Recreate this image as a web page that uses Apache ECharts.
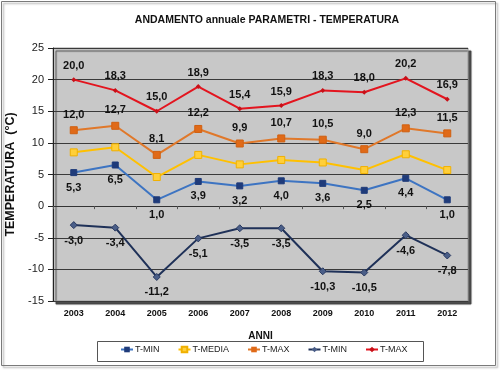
<!DOCTYPE html>
<html><head><meta charset="utf-8">
<script src="https://cdn.jsdelivr.net/npm/echarts@6/dist/echarts.min.js"></script>
<style>html,body{margin:0;padding:0;background:#fff}#c{width:500px;height:370px}</style>
</head><body><div id="c"></div>
<script>
const categories = ['2003','2004','2005','2006','2007','2008','2009','2010','2011','2012'];
const tMinBlue = [5.3, 6.5, 1.0, 3.9, 3.2, 4.0, 3.6, 2.5, 4.4, 1.0];
const tMedia = [8.5, 9.3, 4.6, 8.1, 6.6, 7.3, 6.9, 5.7, 8.2, 5.7];
const tMaxOrange = [12.0, 12.7, 8.1, 12.2, 9.9, 10.7, 10.5, 9.0, 12.3, 11.5];
const tMinNavy = [-3.0, -3.4, -11.2, -5.1, -3.5, -3.5, -10.3, -10.5, -4.6, -7.8];
const tMaxRed = [20.0, 18.3, 15.0, 18.9, 15.4, 15.9, 18.3, 18.0, 20.2, 16.9];
const yTicks = [-15, -10, -5, 0, 5, 10, 15, 20, 25];

const FONT = '"Liberation Sans", Arial, sans-serif';
const fmt = p => p.value.toFixed(1).replace('.', ',');
const lbl = (pos, extra) => Object.assign({show: true, position: pos, formatter: fmt, fontFamily: FONT, fontWeight: 'bold', fontSize: 11, color: '#111', distance: 6}, extra || {});

const chart = echarts.init(document.getElementById('c'), null, {renderer: 'canvas'});
chart.setOption({
  animation: false,
  backgroundColor: '#fff',
  graphic: [
    {type: 'rect', shape: {x: 1.5, y: 1.5, width: 494, height: 364}, style: {fill: 'none', stroke: '#7a7a7a', lineWidth: 1, shadowColor: 'rgba(0,0,0,0.35)', shadowOffsetX: 2, shadowOffsetY: 2, shadowBlur: 2}, z: -1},
    {type: 'rect', shape: {x: 97.5, y: 341.5, width: 326, height: 20}, style: {fill: 'none', stroke: '#555', lineWidth: 1}}
  ],
  title: {text: 'ANDAMENTO annuale PARAMETRI - TEMPERATURA', left: 262, textAlign: 'center', top: 10,
    textStyle: {fontFamily: FONT, fontWeight: 'bold', fontSize: 10.5, color: '#111'}},
  legend: {
    left: 120, top: 345, itemWidth: 12, itemHeight: 7, itemGap: 18, padding: 0,
    textStyle: {fontFamily: FONT, fontSize: 9, color: '#222', padding: [0, 0, 0, -3]},
    data: [{name: 'T-MIN'}, {name: 'T-MEDIA'}, {name: 'T-MAX'}, {name: 'T-MIN '}, {name: 'T-MAX '}],
    formatter: n => n.trim()
  },
  grid: {left: 53, right: 32, top: 48, bottom: 69, containLabel: false, outerBoundsMode: 'none',
    show: true, backgroundColor: '#c8c8c8', borderColor: '#9a9a9a', borderWidth: 1,
    shadowColor: 'rgba(60,60,60,0.9)', shadowOffsetX: 3, shadowOffsetY: 3, shadowBlur: 1},
  xAxis: [
    {type: 'category', data: categories, boundaryGap: true, position: 'bottom',
      axisLine: {show: false, onZero: false}, axisTick: {show: false},
      axisLabel: {fontFamily: FONT, fontWeight: 'bold', fontSize: 9, color: '#111', margin: 8},
      name: 'ANNI', nameLocation: 'middle', nameGap: 30,
      nameTextStyle: {fontFamily: FONT, fontWeight: 'bold', fontSize: 10, color: '#111'}},
    {type: 'category', data: categories, boundaryGap: true, position: 'bottom',
      axisLine: {show: true, onZero: true, lineStyle: {color: '#333', width: 1}},
      axisTick: {show: true, length: 3, inside: false, lineStyle: {color: '#555'}},
      axisLabel: {show: false}}
  ],
  yAxis: {type: 'value', min: -15, max: 25, interval: 5,
    axisLine: {show: true, lineStyle: {color: '#222'}},
    axisTick: {show: true, length: 5, lineStyle: {color: '#222'}},
    axisLabel: {fontFamily: FONT, fontSize: 11, color: '#222', margin: 9},
    splitLine: {show: true, lineStyle: {color: '#3a3a3a', width: 1}},
    name: 'TEMPERATURA  (°C)', nameLocation: 'middle', nameGap: 31, nameRotate: 90,
    nameTextStyle: {fontFamily: FONT, fontWeight: 'bold', fontSize: 12.5, color: '#111'}},
  series: [
    {name: 'T-MIN', type: 'line', data: tMinBlue, symbol: 'rect', symbolSize: 6,
      lineStyle: {color: '#3d74c2', width: 2}, itemStyle: {color: '#1f3b7a', borderColor: '#1f3b7a'},
      label: lbl('bottom')},
    {name: 'T-MEDIA', type: 'line', data: tMedia, symbol: 'rect', symbolSize: 7,
      lineStyle: {color: '#ffc000', width: 2}, itemStyle: {color: '#ffcf3a', borderColor: '#f0b000', borderWidth: 1}},
    {name: 'T-MAX', type: 'line', data: tMaxOrange, symbol: 'rect', symbolSize: 7,
      lineStyle: {color: '#e0782a', width: 2}, itemStyle: {color: '#e06a18', borderColor: '#d06010'},
      label: lbl('top')},
    {name: 'T-MIN ', type: 'line', data: tMinNavy, symbol: 'diamond', symbolSize: 7,
      lineStyle: {color: '#1f3158', width: 2}, itemStyle: {color: '#4a5e88', borderColor: '#2a3a60'},
      label: lbl('bottom')},
    {name: 'T-MAX ', type: 'line', data: tMaxRed, symbol: 'diamond', symbolSize: 5,
      lineStyle: {color: '#e3141e', width: 2}, itemStyle: {color: '#c81018'},
      label: lbl('top')}
  ]
});
</script></body></html>
